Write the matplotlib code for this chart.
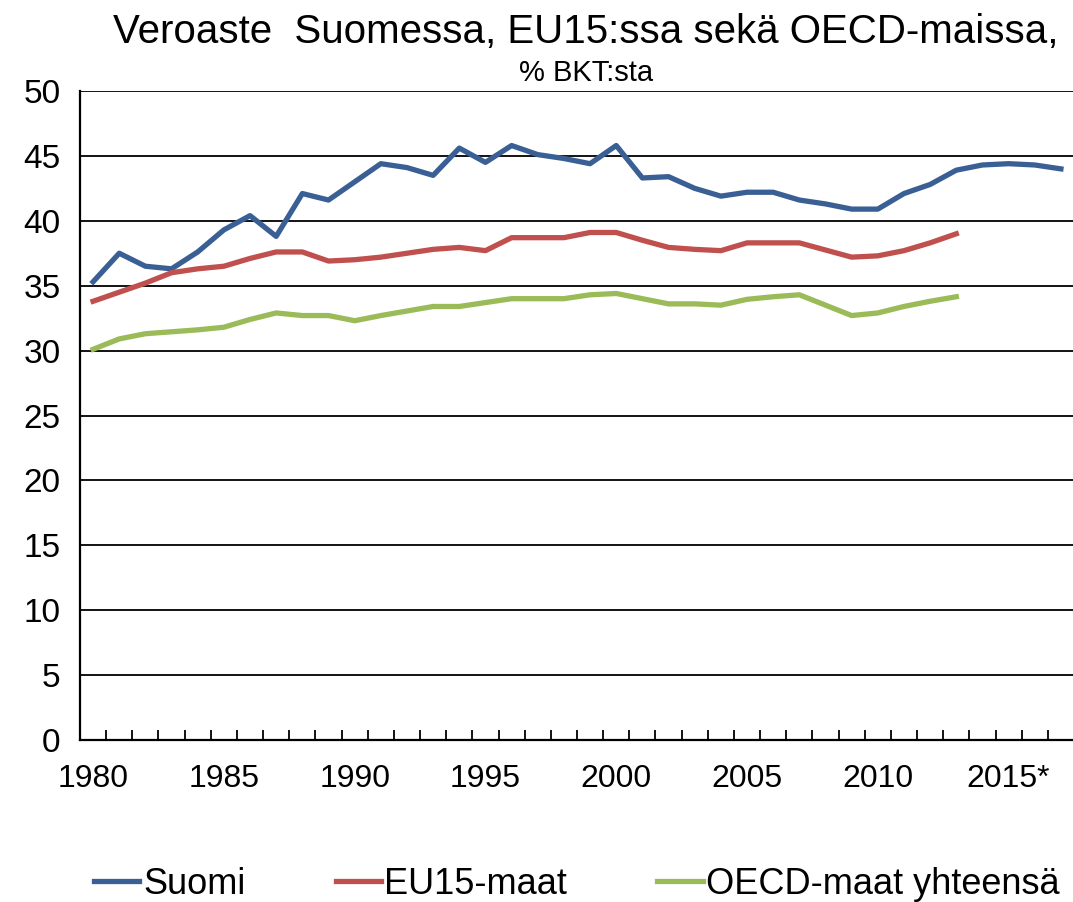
import numpy as np
import matplotlib.pyplot as plt

plt.rcParams["font.family"] = ["Liberation Sans", "DejaVu Sans"]

# Data
years = list(range(1980, 2018))
suomi = [35.3, 37.5, 36.5, 36.3, 37.6, 39.3, 40.4, 38.8, 42.1, 41.6,
         43.0, 44.4, 44.1, 43.5, 45.6, 44.5, 45.8, 45.1, 44.8, 44.4,
         45.8, 43.3, 43.4, 42.5, 41.9, 42.2, 42.2, 41.6, 41.3, 40.9,
         40.9, 42.1, 42.8, 43.9, 44.3, 44.4, 44.3, 44.0]
eu15 = [33.8, 34.5, 35.2, 36.0, 36.3, 36.5, 37.1, 37.6, 37.6, 36.9,
        37.0, 37.2, 37.5, 37.8, 37.95, 37.7, 38.7, 38.7, 38.7, 39.1,
        39.1, 38.5, 37.95, 37.8, 37.7, 38.3, 38.3, 38.3, 37.75, 37.2,
        37.3, 37.7, 38.3, 39.0]
oecd = [30.1, 30.9, 31.3, 31.45, 31.6, 31.8, 32.4, 32.9, 32.7, 32.7,
        32.3, 32.7, 33.05, 33.4, 33.4, 33.7, 34.0, 34.0, 34.0, 34.3,
        34.4, 34.0, 33.6, 33.6, 33.5, 33.95, 34.15, 34.3, 33.5, 32.7,
        32.9, 33.4, 33.8, 34.15]
label_years = ["1980", "1985", "1990", "1995", "2000", "2005", "2010", "2015*"]

fig = plt.figure(figsize=(10.73, 9.02), dpi=100)
ax = fig.add_axes([80 / 1073, 1 - 740 / 902, 994 / 1073, 649 / 902])

x = np.arange(len(years))
l1, = ax.plot(x, suomi, color="#3A5F94", lw=3.8)
l2, = ax.plot(x[:len(eu15)], eu15, color="#C0504D", lw=3.8)
l3, = ax.plot(x[:len(oecd)], oecd, color="#9BBB59", lw=3.8)

ax.set_ylim(0, 50)
ax.set_yticks(range(0, 51, 5))
ax.set_xlim(-0.5, len(years) - 0.5)
ax.yaxis.grid(True, color="black", lw=1.3)
ax.set_axisbelow(True)

ax.set_xticks(np.arange(len(years) + 1) - 0.5)
ax.set_xticklabels([])
ax.tick_params(axis="x", which="major", direction="in", length=7, width=1.3)
ax.set_xticks(np.arange(0, len(years), 5), minor=True)
ax.set_xticklabels(label_years, minor=True)
ax.tick_params(axis="x", which="minor", length=0, pad=17, labelsize=23)
ax.tick_params(axis="y", length=0, pad=14, labelsize=24)

for s in ["top", "right"]:
    ax.spines[s].set_visible(False)
for s in ["left", "bottom"]:
    ax.spines[s].set_linewidth(1.6)

fig.text(586 / 1073, 1 - 43 / 902, "Veroaste  Suomessa, EU15:ssa sekä OECD-maissa,",
         ha="center", va="baseline", fontsize=29)
fig.text(586 / 1073, 1 - 81 / 902, "% BKT:sta", ha="center", va="baseline", fontsize=21)

fig.legend([l1, l2, l3], ["Suomi", "EU15-maat", "OECD-maat yhteensä"],
           loc="center", bbox_to_anchor=(577 / 1073, 18 / 902), ncol=3,
           frameon=False, fontsize=26, handlelength=1.25, handletextpad=0.1,
           columnspacing=2.5, borderpad=0, borderaxespad=0)

fig.savefig("out.png", dpi=100)
